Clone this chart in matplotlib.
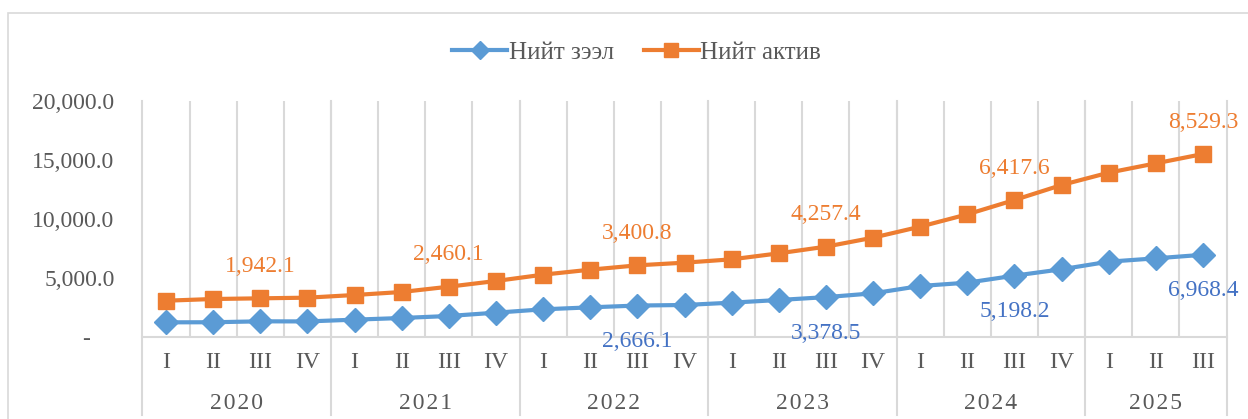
import numpy as np
import matplotlib
matplotlib.use('Agg')
import matplotlib.pyplot as plt
import matplotlib.transforms as mtransforms
from matplotlib.patches import Rectangle
from matplotlib.ticker import FuncFormatter

plt.rcParams['font.family'] = ['Liberation Serif', 'DejaVu Serif']

#data, 2020 I .. 2025 III
years = ['2020', '2021', '2022', '2023', '2024', '2025']
quarters = ['I', 'II', 'III', 'IV'] * 5 + ['I', 'II', 'III']
loans = [1243, 1250, 1328, 1320, 1469, 1610, 1780, 2062, 2345, 2514, 2666.1, 2712,
         2910, 3136, 3378.5, 3700, 4322, 4605, 5198.2, 5740, 6384, 6667, 6968.4]
assets = [3076, 3220, 3277, 3333, 3559, 3814, 4263, 4746, 5282, 5706, 6073, 6299,
          6582, 7090, 7655, 8418, 9350, 10395, 11610, 12881, 13927, 14718, 15508]
#labels as printed on the chart
asset_lbl_idx = [2, 6, 10, 14, 18, 22]
asset_lbl = ['1,942.1', '2,460.1', '3,400.8', '4,257.4', '6,417.6', '8,529.3']
loan_lbl_idx = [10, 14, 18, 22]
loan_lbl = ['2,666.1', '3,378.5', '5,198.2', '6,968.4']

blue = '#5B9BD5'
orange = '#ED7D31'
grey = '#595959'
grid = '#D9D9D9'
fs = 17

fig = plt.figure(figsize=(12.48, 4.19), dpi=100)
ax = fig.add_axes([142.4/1248, 1-337/419, 1084.2/1248, 236/419])
x = np.arange(len(loans))

#frame of the chart area
fig.add_artist(Rectangle((8/1248, -0.1), 1.2, 1.1-13/419, transform=fig.transFigure,
                         fill=False, ec=grid, lw=1.2))

#vertical gridlines between categories
ax.vlines(x[:-1]+0.5, 0, 20000, color=grid, lw=1.5, zorder=0)
trans = mtransforms.blended_transform_factory(ax.transData, ax.transAxes)
bounds = [-0.5, 3.5, 7.5, 11.5, 15.5, 19.5, 22.5]
for b in bounds:
    ax.plot([b, b], [-0.33, 1], color=grid, lw=1.5, transform=trans, clip_on=False, zorder=0)

ax.plot(x, loans, color=blue, lw=3, marker='D', ms=12, label='Нийт зээл', zorder=3)
ax.plot(x, assets, color=orange, lw=3, marker='s', ms=12, label='Нийт актив', zorder=3)

for i, t in zip(asset_lbl_idx, asset_lbl):
    ax.annotate(t, (x[i], assets[i]), xytext=(0, 23), textcoords='offset points',
                ha='center', va='center', color=orange, fontsize=fs)
for i, t in zip(loan_lbl_idx, loan_lbl):
    ax.annotate(t, (x[i], loans[i]), xytext=(0, -26), textcoords='offset points',
                ha='center', va='center', color='#4472C4', fontsize=fs)

ax.set_xlim(-0.5, 22.5)
ax.set_ylim(0, 20000)
ax.set_xticks([])
ax.set_yticks([0, 5000, 10000, 15000, 20000])
ax.yaxis.set_major_formatter(FuncFormatter(lambda v, p: '-    ' if v == 0 else f'{v:,.1f}'))
ax.tick_params(axis='y', length=0, pad=20, labelsize=fs, labelcolor=grey)
for s in ['top', 'left', 'right']:
    ax.spines[s].set_visible(False)
ax.spines['bottom'].set_color(grid)
ax.spines['bottom'].set_linewidth(1.5)

#two-level category axis
for i, q in enumerate(quarters):
    ax.text(x[i], -0.11, q, transform=trans, ha='center', va='center', fontsize=fs, color=grey)
for k, yr in enumerate(years):
    mid = (bounds[k] + bounds[k+1]) / 2
    ax.text(mid, -0.28, '\u200a'.join(yr), transform=trans, ha='center', va='center',
            fontsize=fs, color=grey)

ax.legend(loc='center', bbox_to_anchor=(0.51, 1-53/419), bbox_transform=fig.transFigure,
          ncol=2, frameon=False, fontsize=18, handlelength=2.2, handletextpad=0.05,
          columnspacing=1.2, labelcolor=grey, markerscale=0.8)

plt.savefig('out.png')
